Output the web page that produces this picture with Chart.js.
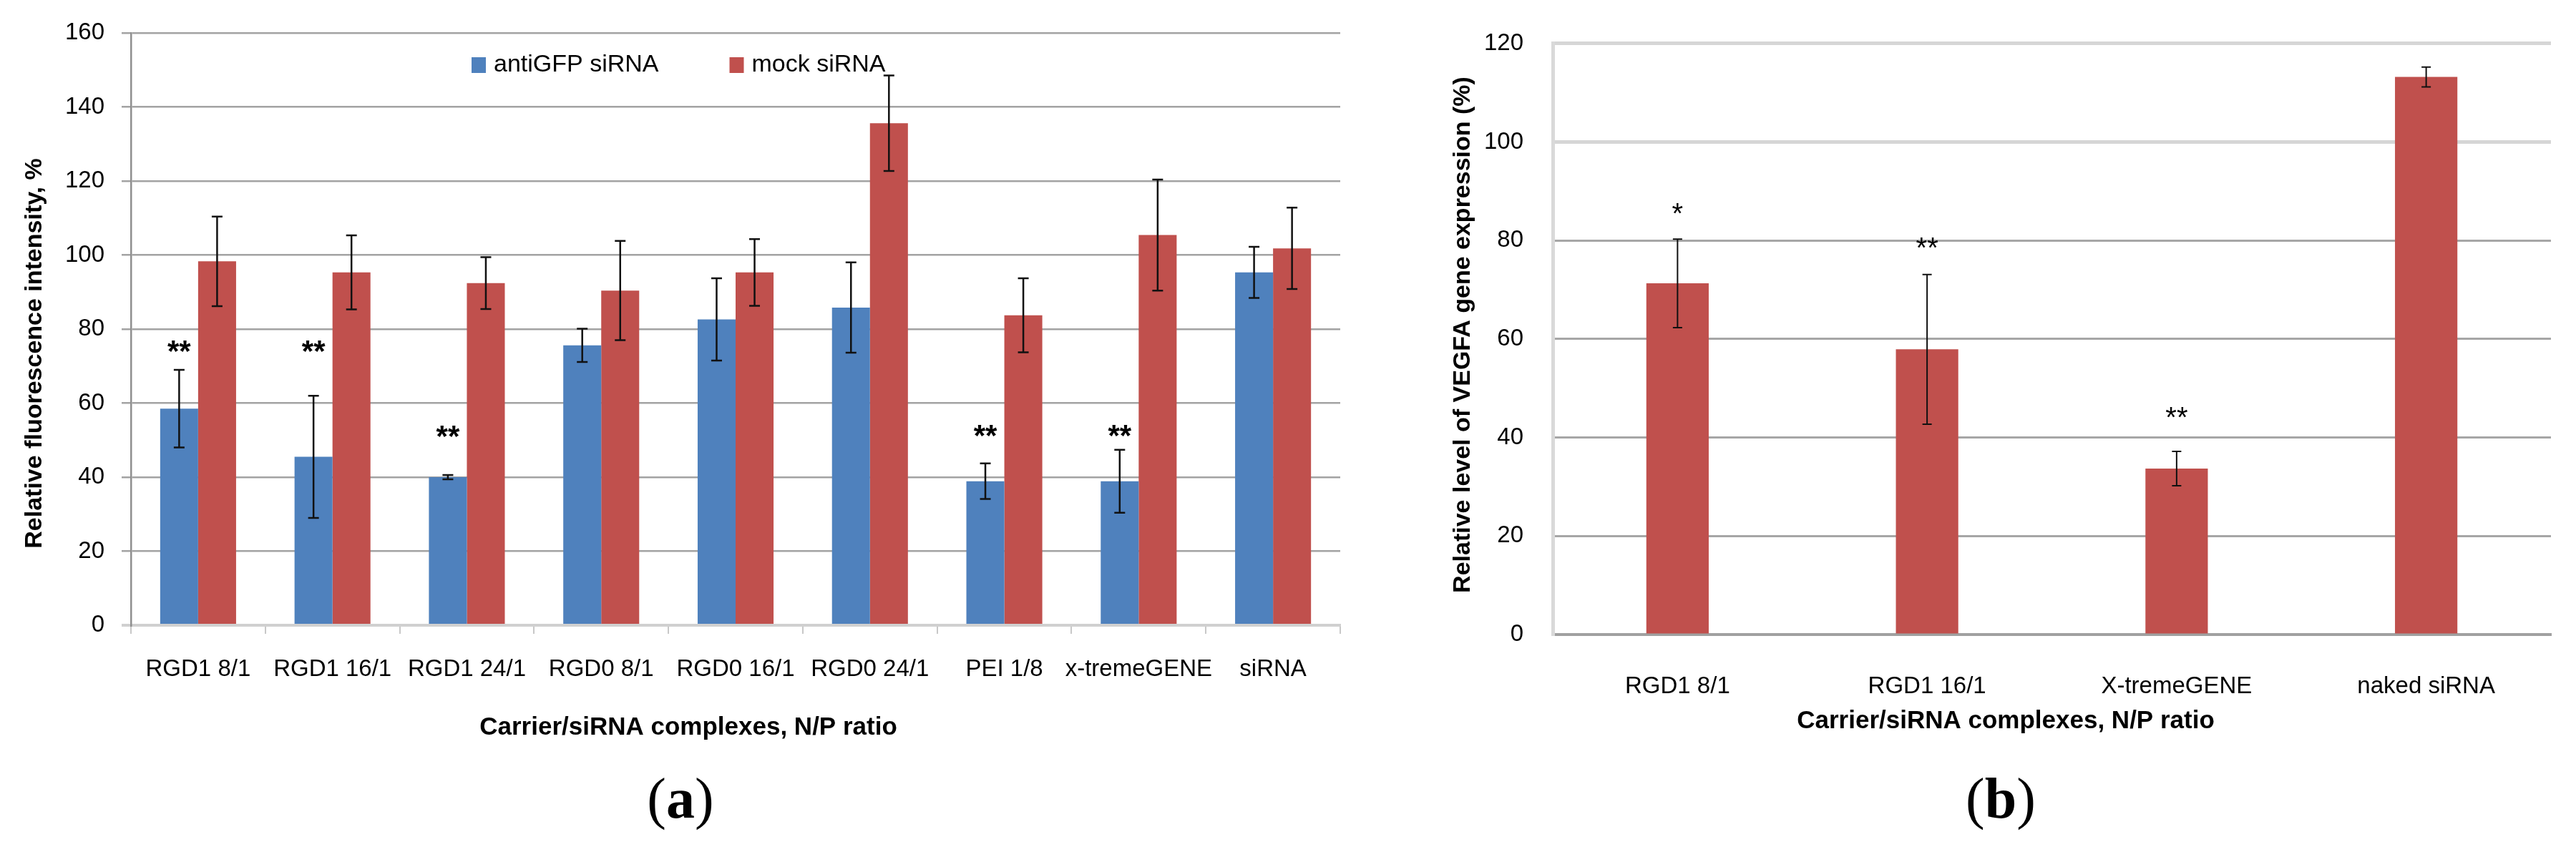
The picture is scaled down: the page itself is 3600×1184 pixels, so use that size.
<!DOCTYPE html>
<html>
<head>
<meta charset="utf-8">
<script src="https://cdn.jsdelivr.net/npm/chart.js@4.4.0/dist/chart.umd.min.js"></script>
<style>
  html, body { margin: 0; padding: 0; background: #fff; }
  #wrap { position: relative; width: 3600px; height: 1184px; overflow: hidden; }
  canvas { position: absolute; top: 0; }
  #chartA { left: 0; }
  #chartB { left: 2006px; }
  .panel { position: absolute; top: 1116px; transform: translate(-50%, -50%);
           font: 80px 'Liberation Serif', serif; color: #000; white-space: nowrap; }
</style>
</head>
<body>
<div id="wrap">
  <canvas id="chartA" width="1924" height="1060"></canvas>
  <canvas id="chartB" width="1594" height="1060"></canvas>
  <div class="panel" style="left:951px">(<b>a</b>)</div>
  <div class="panel" style="left:2796px">(<b>b</b>)</div>
</div>
<script>
// panel (a): fluorescence after GFP knockdown
const categoriesA = ['RGD1 8/1', 'RGD1 16/1', 'RGD1 24/1', 'RGD0 8/1', 'RGD0 16/1', 'RGD0 24/1', 'PEI 1/8', 'x-tremeGENE', 'siRNA'];
const antiGFP = [58.5, 45.5, 40.0, 75.6, 82.6, 85.8, 38.9, 38.9, 95.3];
const antiGFPErr = [10.5, 16.5, 0.6, 4.5, 11.1, 12.2, 4.8, 8.5, 6.9];
const mockSi = [98.3, 95.3, 92.4, 90.4, 95.3, 135.6, 83.7, 105.4, 101.8];
const mockSiErr = [12.1, 10.0, 7.0, 13.4, 9.0, 12.9, 10.0, 15.0, 11.0];
const starsA = ['**', '**', '**', '', '', '', '**', '**', ''];
const starsAY = [73.5, 73.5, 50.5, null, null, null, 50.8, 50.8, null];
const yTicksA = { min: 0, max: 160, step: 20 };

// panel (b): VEGFA expression
const categoriesB = ['RGD1 8/1', 'RGD1 16/1', 'X-tremeGENE', 'naked siRNA'];
const vegfa = [71.3, 57.9, 33.7, 113.2];
const vegfaErr = [9.0, 15.2, 3.5, 2.0];
const starsB = ['*', '**', '**', ''];
const starsBY = [85.1, 78.2, 43.7, null];
const yTicksB = { min: 0, max: 120, step: 20 };

const BLUE = '#4f81bd';
const RED = '#c0504d';
const FONT = "'Liberation Sans', Arial, sans-serif";

// error bars + significance stars, drawn through the y scale
const errorBars = {
  id: 'errorBars',
  afterDatasetsDraw(chart, args, opts) {
    const { ctx } = chart;
    const y = chart.scales.y;
    ctx.save();
    chart.data.datasets.forEach((ds, di) => {
      const meta = chart.getDatasetMeta(di);
      meta.data.forEach((bar, i) => {
        const v = ds.data[i], e = ds.errors[i];
        const top = y.getPixelForValue(v + e);
        const bot = y.getPixelForValue(v - e);
        const h = opts.cap / 2;
        ctx.strokeStyle = opts.color;
        ctx.lineWidth = opts.width;
        ctx.beginPath();
        ctx.moveTo(bar.x, top); ctx.lineTo(bar.x, bot);
        ctx.moveTo(bar.x - h, top); ctx.lineTo(bar.x + h, top);
        ctx.moveTo(bar.x - h, bot); ctx.lineTo(bar.x + h, bot);
        ctx.stroke();
        if (ds.stars && ds.stars[i]) {
          ctx.fillStyle = '#000';
          ctx.font = opts.starFont;
          ctx.textAlign = 'center';
          ctx.textBaseline = 'middle';
          ctx.fillText(ds.stars[i], bar.x, y.getPixelForValue(ds.starY[i]));
        }
      });
    });
    ctx.restore();
  }
};

// axis titles and in-plot legend
const texts = {
  id: 'texts',
  afterDraw(chart, args, opts) {
    const { ctx } = chart;
    ctx.save();
    ctx.fillStyle = '#000';
    ctx.textBaseline = 'middle';
    ctx.textAlign = 'center';
    ctx.font = 'bold 35px ' + FONT;
    ctx.fillText(opts.xTitle.text, opts.xTitle.x, opts.xTitle.y);
    ctx.save();
    ctx.translate(opts.yTitle.x, opts.yTitle.y);
    ctx.rotate(-Math.PI / 2);
    ctx.font = 'bold 34px ' + FONT;
    ctx.fillText(opts.yTitle.text, 0, 0);
    ctx.restore();
    if (opts.legend) {
      let x = opts.legend.x;
      const ly = opts.legend.y;
      ctx.font = '34px ' + FONT;
      ctx.textAlign = 'left';
      chart.data.datasets.forEach((ds) => {
        ctx.fillStyle = ds.backgroundColor;
        ctx.fillRect(x, ly - 11, 20, 22);
        ctx.fillStyle = '#000';
        ctx.fillText(ds.label, x + 31, ly);
        x += 31 + ctx.measureText(ds.label).width + 99;
      });
    }
    ctx.restore();
  }
};

new Chart(document.getElementById('chartA'), {
  type: 'bar',
  data: {
    labels: categoriesA,
    datasets: [
      { label: 'antiGFP siRNA', data: antiGFP, errors: antiGFPErr, stars: starsA, starY: starsAY,
        backgroundColor: BLUE, categoryPercentage: 0.565, barPercentage: 1.0 },
      { label: 'mock siRNA', data: mockSi, errors: mockSiErr,
        backgroundColor: RED, categoryPercentage: 0.565, barPercentage: 1.0 }
    ]
  },
  options: {
    responsive: false,
    animation: false,
    devicePixelRatio: 1,
    layout: { padding: { left: 0, top: 46, right: 51, bottom: 0 } },
    plugins: {
      legend: { display: false },
      tooltip: { enabled: false },
      errorBars: { color: '#111', width: 2.5, cap: 15, starFont: 'bold 42px ' + FONT },
      texts: {
        xTitle: { text: 'Carrier/siRNA complexes, N/P ratio', x: 962, y: 1017 },
        yTitle: { text: 'Relative fluorescence intensity, %', x: 49, y: 494 },
        legend: { x: 659, y: 91 }
      }
    },
    scales: {
      x: {
        afterFit: (s) => { s.height = 186; },
        grid: { drawOnChartArea: false, drawTicks: true, tickLength: 12, color: '#c8c8c8', lineWidth: 2 },
        border: { color: '#d0d0d0', width: 4 },
        ticks: { color: '#000', font: { family: FONT, size: 33 }, padding: 30, maxRotation: 0, autoSkip: false }
      },
      y: {
        min: yTicksA.min, max: yTicksA.max,
        afterFit: (s) => { s.width = 183; },
        grid: { color: (c) => c.tick && c.tick.value === 0 ? '#d0d0d0' : '#a3a3a3',
                lineWidth: (c) => c.tick && c.tick.value === 0 ? 4 : 2.5, tickLength: 13 },
        border: { color: '#8f8f8f', width: 2.5 },
        ticks: { stepSize: yTicksA.step, color: '#000', font: { family: FONT, size: 33 }, padding: 24 }
      }
    }
  },
  plugins: [errorBars, texts]
});

new Chart(document.getElementById('chartB'), {
  type: 'bar',
  data: {
    labels: categoriesB,
    datasets: [
      { label: 'VEGFA', data: vegfa, errors: vegfaErr, stars: starsB, starY: starsBY,
        backgroundColor: RED, categoryPercentage: 0.25, barPercentage: 1.0 }
    ]
  },
  options: {
    responsive: false,
    animation: false,
    devicePixelRatio: 1,
    layout: { padding: { left: 0, top: 32, right: 35, bottom: 0 } },
    plugins: {
      legend: { display: false },
      tooltip: { enabled: false },
      errorBars: { color: '#111', width: 2, cap: 13, starFont: '40px ' + FONT },
      texts: {
        xTitle: { text: 'Carrier/siRNA complexes, N/P ratio', x: 797, y: 1008 },
        yTitle: { text: 'Relative level of VEGFA gene expression (%)', x: 39, y: 468 }
      }
    },
    scales: {
      x: {
        afterFit: (s) => { s.height = 173; },
        grid: { display: false },
        border: { color: '#a0a0a0', width: 4 },
        ticks: { color: '#000', font: { family: FONT, size: 33 }, padding: 45, maxRotation: 0, autoSkip: false }
      },
      y: {
        min: yTicksB.min, max: yTicksB.max,
        afterFit: (s) => { s.width = 164; },
        grid: { drawTicks: false,
                color: (c) => c.tick && c.tick.value >= 100 ? '#d6d6d6' : '#a6a6a6',
                lineWidth: (c) => c.tick && c.tick.value >= 100 ? 5 : 3 },
        border: { color: '#d9d9d9', width: 5 },
        ticks: { stepSize: yTicksB.step, color: '#000', font: { family: FONT, size: 33 }, padding: 41 }
      }
    }
  },
  plugins: [errorBars, texts]
});
</script>
</body>
</html>
